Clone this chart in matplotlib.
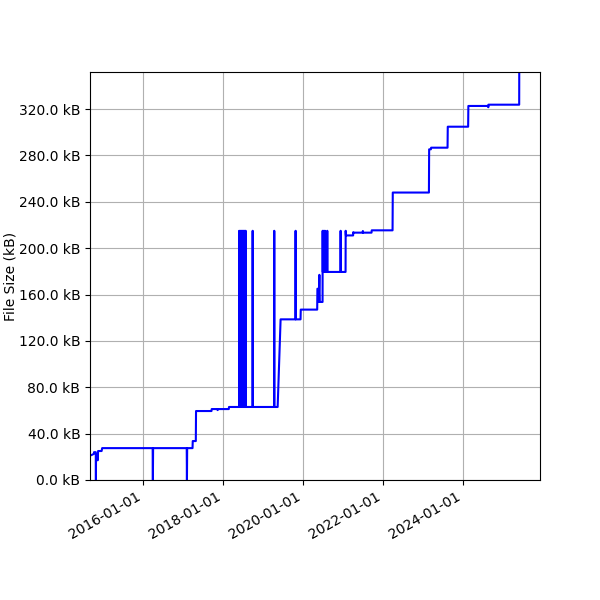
import matplotlib
matplotlib.use('Agg')
import matplotlib.pyplot as plt
import matplotlib.dates as mdates
import pandas as pd

# file size history (date, size in kB)
dates = [
    '2014-09-20', '2014-10-10', '2014-10-12', '2014-10-28', '2014-10-29', '2014-10-30',
    '2014-11-10', '2014-11-14', '2014-11-18', '2014-12-20', '2014-12-25',
    '2016-03-30', '2016-04-01', '2016-04-03',
    '2017-02-04', '2017-02-06', '2017-02-08',
    '2017-03-29', '2017-03-31', '2017-04-28', '2017-04-30',
    '2017-09-18', '2017-09-20', '2017-11-12', '2017-11-13', '2017-11-14',
    '2018-02-23', '2018-02-25',
    '2018-05-28', '2018-05-29', '2018-05-30',
    '2018-06-07', '2018-06-08', '2018-06-09',
    '2018-06-17', '2018-06-18', '2018-06-19',
    '2018-06-27', '2018-06-28', '2018-06-29',
    '2018-07-07', '2018-07-08', '2018-07-09',
    '2018-07-17', '2018-07-18', '2018-07-19',
    '2018-07-26', '2018-07-27', '2018-07-28',
    '2018-09-28', '2018-09-29', '2018-09-30',
    '2019-04-13', '2019-04-14', '2019-04-15',
    '2019-05-15', '2019-06-11',
    '2019-10-25', '2019-10-26', '2019-10-27',
    '2019-12-10', '2019-12-12',
    '2020-05-10', '2020-05-12', '2020-05-22', '2020-05-24', '2020-05-30', '2020-06-03',
    '2020-06-28', '2020-06-29', '2020-06-30',
    '2020-07-09', '2020-07-10', '2020-07-11',
    '2020-07-19', '2020-07-20', '2020-07-21',
    '2020-08-09', '2020-08-10', '2020-08-11',
    '2020-12-09', '2020-12-10', '2020-12-11',
    '2021-01-24', '2021-01-25', '2021-01-27',
    '2021-04-03', '2021-04-04', '2021-04-06',
    '2021-06-30', '2021-07-01', '2021-07-02',
    '2021-09-18', '2021-09-20',
    '2022-03-29', '2022-03-31',
    '2023-02-24', '2023-02-26', '2023-03-14', '2023-03-16',
    '2023-08-13', '2023-08-15',
    '2024-02-17', '2024-02-19',
    '2024-08-18', '2024-08-19', '2024-08-20',
    '2025-05-28', '2025-05-30',
]
sizes_kb = [
    21.6, 22.5, 24.0, 24.0, 0.0, 22.0,
    22.0, 17.0, 25.0, 25.0, 27.5,
    27.5, 0.0, 27.5,
    27.5, 0.0, 27.5,
    27.5, 33.6, 33.6, 59.5,
    59.5, 61.2, 61.2, 60.3, 61.2,
    61.2, 63.0,
    63.0, 215.0, 63.0,
    63.0, 215.0, 63.0,
    63.0, 215.0, 63.0,
    63.0, 215.0, 63.0,
    63.0, 215.0, 63.0,
    63.0, 215.0, 63.0,
    63.0, 215.0, 63.0,
    63.0, 215.0, 63.0,
    63.0, 215.0, 63.0,
    63.0, 138.6,
    138.6, 215.0, 138.6,
    138.6, 147.0,
    147.0, 165.0, 165.0, 153.6, 177.0, 153.6,
    153.6, 215.0, 179.5,
    179.5, 215.0, 179.5,
    179.5, 215.0, 179.5,
    179.5, 215.0, 179.5,
    179.5, 215.0, 179.5,
    179.5, 215.0, 211.0,
    211.0, 213.8, 213.4,
    213.4, 214.8, 213.4,
    213.4, 215.4,
    215.4, 248.0,
    248.0, 285.3, 285.3, 286.7,
    286.7, 304.8,
    304.8, 322.7,
    322.7, 321.6, 323.8,
    323.8, 420.0,
]

x = pd.to_datetime(dates)

fig, ax = plt.subplots(figsize=(6, 6), dpi=100)
ax.plot(x, sizes_kb, color='blue', linewidth=1.5)

ax.set_xlim(pd.Timestamp('2014-09-05'), pd.Timestamp('2025-12-04'))
ax.set_ylim(0, 352)
ax.set_yticks(range(0, 321, 40))
ax.yaxis.set_major_formatter(plt.FuncFormatter(lambda v, p: f'{v:.1f} kB'))
ax.xaxis.set_major_locator(mdates.YearLocator(2))
ax.xaxis.set_major_formatter(mdates.DateFormatter('%Y-%m-%d'))
ax.set_ylabel('File Size (kB)', labelpad=1)
ax.grid(True)

fig.autofmt_xdate()
plt.subplots_adjust(left=0.15, right=0.9, top=0.88, bottom=0.2)
plt.savefig('out.png')
